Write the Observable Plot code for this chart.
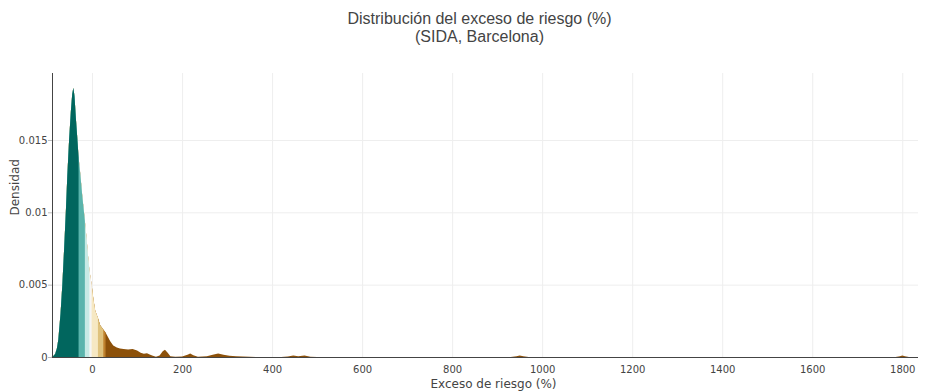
<!DOCTYPE html>
<html>
<head>
<meta charset="utf-8">
<script src="https://cdn.jsdelivr.net/npm/d3@7"></script>
<script src="https://cdn.jsdelivr.net/npm/@observablehq/plot@0.6"></script>
<style>
  body { margin: 0; background: #fff; }
  #wrap { position: relative; width: 929px; height: 392px; overflow: hidden; }
  #title { position: absolute; left: 15px; top: 10px; width: 929px; text-align: center;
           font-family: "Liberation Sans", Arial, sans-serif; font-size: 16px; line-height: 18px; color: #444; }
  #chart { position: absolute; left: 0; top: 60px; }
</style>
</head>
<body>
<div id="wrap">
  <div id="title">Distribución del exceso de riesgo (%)<br>(SIDA, Barcelona)</div>
  <div id="chart"></div>
</div>
<script>
// Density curve (x = exceso de riesgo %, y = densidad)
const excess = [-90, -87, -82, -78, -75, -70, -66, -62, -58, -55, -51, -47, -44, -41.5, -39, -36, -33, -30,
  -26, -22, -18, -16, -12, -9, -6, -3, -1, 3, 7, 13, 18, 25, 30, 35, 40, 47, 55, 62, 70, 80, 90, 100,
  108, 115, 122, 128, 135, 142, 150, 157, 162, 168, 174, 185, 200, 212, 218, 225, 235, 255, 268, 280,
  292, 305, 320, 335, 350, 370, 420, 435, 447, 458, 472, 485, 500, 930, 943, 950, 958, 970,
  1785, 1795, 1800, 1806, 1815];
const density = [0, 0.00003, 0.0002, 0.0006, 0.0012, 0.003, 0.005, 0.0075, 0.0102, 0.0125, 0.015, 0.017,
  0.0182, 0.0186, 0.018, 0.0165, 0.0152, 0.0138, 0.0126, 0.0112, 0.0100, 0.0094, 0.0081, 0.007, 0.006,
  0.0054, 0.005, 0.004, 0.0032, 0.0027, 0.0022, 0.0019, 0.0017, 0.0014, 0.0011, 0.0008, 0.00065,
  0.00058, 0.00055, 0.00052, 0.00056, 0.00045, 0.0003, 0.00022, 0.00026, 0.00018, 0.00008, 0.00002,
  0.0001, 0.0004, 0.0005, 0.0003, 0.00005, 0.00001, 0.00003, 0.00015, 0.00024, 0.00012, 0.00002,
  0.00005, 0.00015, 0.00025, 0.00016, 0.00008, 0.00006, 0.00003, 0.00001, 0, 0, 0.00003, 0.0001,
  0.00005, 0.0001, 0.00002, 0, 0, 0.00005, 0.0001, 0.00005, 0, 0, 0.00006, 0.0001, 0.00006, 0];

// Colour bands: upper x limit of each band (drawn widest first) and its colour
const bandLimits = [Infinity, 30, 25, 13, -1, -6, -16, -30];
const bandColors = ["#8c510a", "#bf812d", "#dfc27d", "#f6e8c3", "#f5f5f5", "#c7eae5", "#5ab4ac", "#01665e"];

const xTicks = [0, 200, 400, 600, 800, 1000, 1200, 1400, 1600, 1800];
const yTicks = [0, 0.005, 0.01, 0.015];

const data = excess.map((x, i) => ({x, y: density[i]}));
const xDomain = [-89, 1835];

const bandMarks = bandLimits.map((lim, i) =>
  Plot.areaY(data.filter(d => d.x <= lim), {x: "x", y: "y", fill: bandColors[i], curve: "linear"})
);

const chart = Plot.plot({
  width: 929,
  height: 332,
  marginTop: 13,
  marginBottom: 35,
  marginLeft: 52,
  marginRight: 11,
  style: {fontFamily: "'DejaVu Sans', Verdana, sans-serif", color: "#444", background: "#fff"},
  x: {domain: xDomain},
  y: {domain: [0, 0.01963]},
  marks: [
    Plot.gridX(xTicks, {stroke: "#eee", strokeOpacity: 1}),
    Plot.gridY(yTicks.filter(d => d > 0), {stroke: "#eee", strokeOpacity: 1}),
    ...bandMarks,
    Plot.ruleY([0], {stroke: "#444"}),
    Plot.ruleX([xDomain[0]], {stroke: "#444"}),
    Plot.axisX(xTicks, {tickSize: 0, tickPadding: 8, fontSize: 10, fill: "#444", tickFormat: d => String(d), label: null}),
    Plot.axisY(yTicks, {tickSize: 4, tickPadding: 1, fontSize: 10, fill: "#444", stroke: "#bbb", tickFormat: d => String(d), label: null}),
    Plot.text(["Exceso de riesgo (%)"], {frameAnchor: "bottom", dy: 30, dx: 8, fontSize: 12, fill: "#444"}),
    Plot.text(["Densidad"], {frameAnchor: "left", dx: -37, rotate: -90, fontSize: 12, fill: "#444"})
  ]
});
document.getElementById("chart").appendChild(chart);
</script>
</body>
</html>
